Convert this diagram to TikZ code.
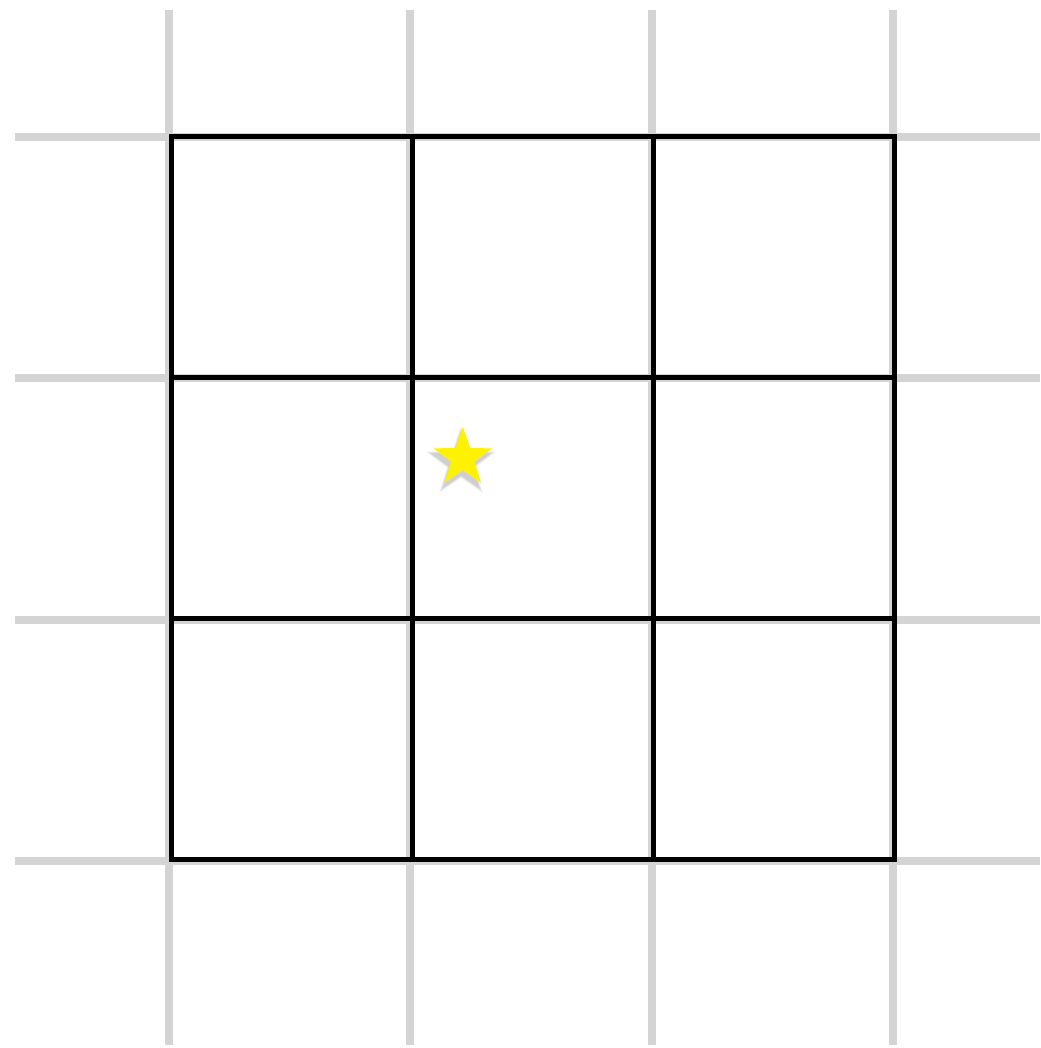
\documentclass[tikz,border=0pt]{standalone}
\usepackage{tikz}
\usetikzlibrary{shapes.geometric}

\begin{document}
\begin{tikzpicture}[x=0.025cm, y=-0.025cm,
  outer/.style={draw=black!17, line width=8*0.025cm},
  inner/.style={draw=black, line width=5*0.025cm, line cap=rect},
  goal/.style={star, star points=5, star point ratio=2.5, minimum size=62*0.025cm, inner sep=0pt}]
  \def\gx{171}\def\gy{136}\def\cs{241.3}
  \useasboundingbox (0,0) rectangle (1041,1048);
  % outer grey lines
  \foreach \i in {0,1,2,3} {
    \draw[outer] (\gx-2+\i*\cs,10) -- (\gx-2+\i*\cs,1045);
    \draw[outer] (15,\gy+1+\i*\cs) -- (1040,\gy+1+\i*\cs);
  }
  % 3x3 board
  \foreach \i in {0,1,2,3} {
    \draw[inner] (\gx+\i*\cs,\gy) -- (\gx+\i*\cs,\gy+3*\cs);
    \draw[inner] (\gx,\gy+\i*\cs) -- (\gx+3*\cs,\gy+\i*\cs);
  }
  % star with soft shadow
  \foreach \s in {62,66,70,74} {
    \node[goal, fill=black, opacity=0.05, minimum size=\s*0.025cm] at (461,463) {};
  }
  \node[goal, fill=yellow] (star) at (463,458) {};
\end{tikzpicture}
\end{document}
